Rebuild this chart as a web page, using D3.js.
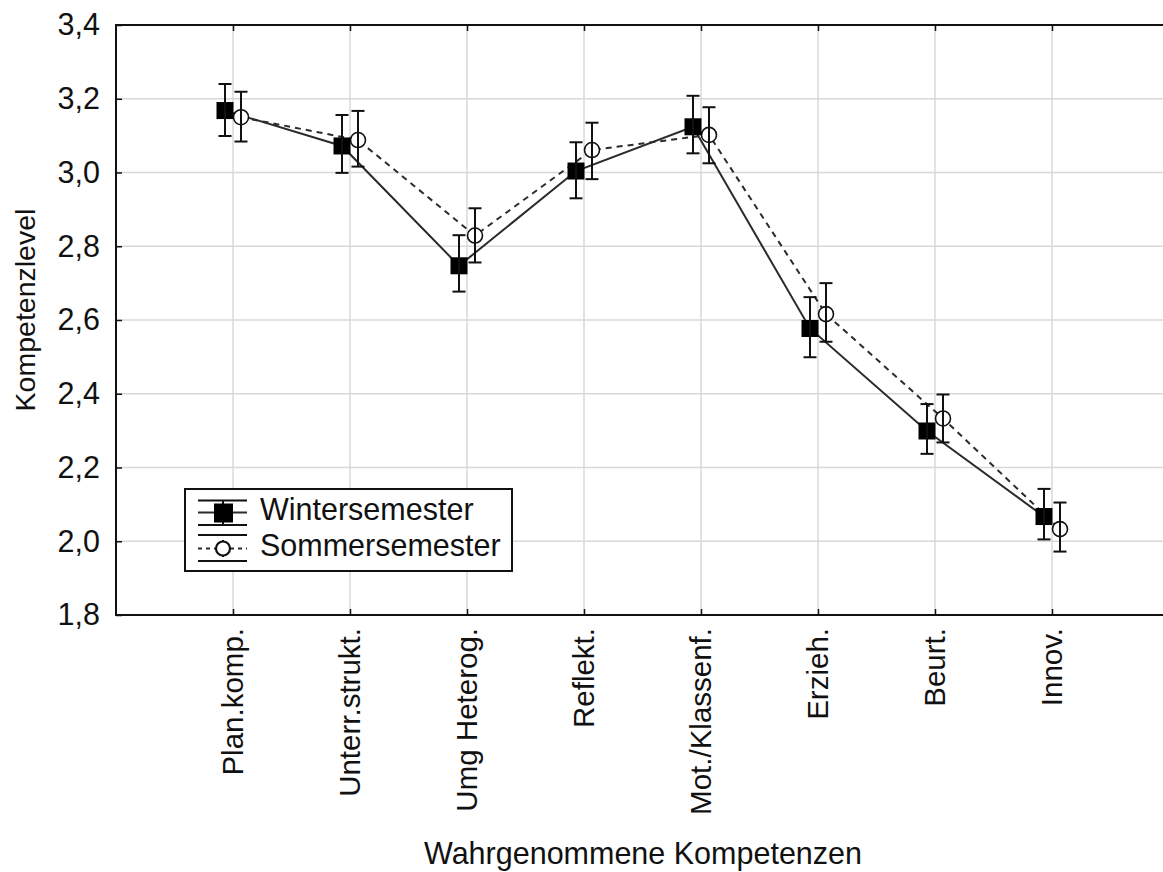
<!DOCTYPE html>
<html>
<head>
<meta charset="utf-8">
<script src="https://cdn.jsdelivr.net/npm/d3@7/dist/d3.min.js"></script>
<style>
  html, body { margin: 0; padding: 0; background: #fff; }
  svg text { font-family: "Liberation Sans", Arial, sans-serif; fill: #111; }
</style>
</head>
<body>
<svg id="chart" width="1163" height="872"></svg>
<script>
// Competence categories (x axis)
const categories = ["Plan.komp.", "Unterr.strukt.", "Umg Heterog.", "Reflekt.",
                    "Mot./Klassenf.", "Erzieh.", "Beurt.", "Innov."];

// Wintersemester: means and confidence limits
const winterMean = [3.168, 3.072, 2.747, 3.004, 3.124, 2.577, 2.299, 2.067];
const winterLow  = [3.099, 2.999, 2.677, 2.930, 3.052, 2.499, 2.237, 2.005];
const winterHigh = [3.240, 3.156, 2.830, 3.082, 3.208, 2.662, 2.372, 2.142];

// Sommersemester: means and confidence limits
const summerMean = [3.150, 3.088, 2.829, 3.061, 3.102, 2.616, 2.333, 2.033];
const summerLow  = [3.084, 3.016, 2.756, 2.982, 3.025, 2.541, 2.268, 1.972];
const summerHigh = [3.219, 3.167, 2.903, 3.135, 3.177, 2.700, 2.398, 2.105];

// Y axis ticks
const yTicks = [1.8, 2.0, 2.2, 2.4, 2.6, 2.8, 3.0, 3.2, 3.4];

const seriesNames = ["Wintersemester", "Sommersemester"];

const svg = d3.select("#chart");
const plotLeft = 116, plotRight = 1169, plotTop = 25, plotBottom = 615;

const x = d3.scaleLinear().domain([0, categories.length + 1]).range([plotLeft, plotRight]);
const y = d3.scaleLinear().domain([1.8, 3.4]).range([plotBottom, plotTop]);

const deLocale = d3.formatLocale({ decimal: ",", thousands: ".", grouping: [3], currency: ["", " €"] });
const fmt = deLocale.format(".1f");

const FONT_H = 30.5;   // horizontal text
const FONT_V = 29.5;   // rotated text
const LINE = "#2b2b2b";

// Grid
const grid = svg.append("g");
grid.selectAll("line.h").data(yTicks.slice(1, -1)).join("line")
  .attr("x1", plotLeft).attr("x2", plotRight)
  .attr("y1", d => y(d)).attr("y2", d => y(d))
  .attr("stroke", "#d8d8d8").attr("stroke-width", 1.5);
grid.selectAll("line.v").data(categories).join("line")
  .attr("x1", (d, i) => x(i + 1)).attr("x2", (d, i) => x(i + 1))
  .attr("y1", plotTop).attr("y2", plotBottom)
  .attr("stroke", "#d8d8d8").attr("stroke-width", 1.5);

// Axes (ticks point into the plot)
const yAxisL = d3.axisLeft(y).tickValues(yTicks).tickSize(-6).tickPadding(16).tickFormat(fmt);
const gy = svg.append("g").attr("transform", `translate(${plotLeft},0)`).call(yAxisL);
gy.select(".domain").remove();
gy.selectAll(".tick line").attr("stroke", "#111").attr("stroke-width", 1.5);
gy.selectAll(".tick text").attr("font-size", FONT_H).attr("font-family", "Liberation Sans, Arial, sans-serif").attr("fill", "#111");

const yAxisR = d3.axisRight(y).tickValues(yTicks).tickSize(-6).tickFormat("");
const gyr = svg.append("g").attr("transform", `translate(${plotRight},0)`).call(yAxisR);
gyr.select(".domain").remove();
gyr.selectAll(".tick line").attr("stroke", "#111").attr("stroke-width", 1.5);

const xAxis = d3.axisBottom(x).tickValues(d3.range(1, categories.length + 1)).tickSize(-6).tickFormat("");
const gx = svg.append("g").attr("transform", `translate(0,${plotBottom})`).call(xAxis);
gx.select(".domain").remove();
gx.selectAll(".tick line").attr("stroke", "#111").attr("stroke-width", 1.5);

const xAxisTop = d3.axisTop(x).tickValues(d3.range(1, categories.length + 1)).tickSize(-6).tickFormat("");
const gxt = svg.append("g").attr("transform", `translate(0,${plotTop})`).call(xAxisTop);
gxt.select(".domain").remove();
gxt.selectAll(".tick line").attr("stroke", "#111").attr("stroke-width", 1.5);

// Category labels, rotated
svg.append("g").selectAll("text").data(categories).join("text")
  .attr("transform", (d, i) => `translate(${x(i + 1)},${plotBottom + 13}) rotate(-90)`)
  .attr("text-anchor", "end").attr("dy", "0.35em")
  .attr("font-size", FONT_V).text(d => d);

// Frame
svg.append("rect").attr("x", plotLeft).attr("y", plotTop)
  .attr("width", plotRight - plotLeft).attr("height", plotBottom - plotTop)
  .attr("fill", "none").attr("stroke", "#111").attr("stroke-width", 2);

// Axis titles
svg.append("text").attr("x", 643).attr("y", 864).attr("text-anchor", "middle")
  .attr("font-size", FONT_H).text("Wahrgenommene Kompetenzen");
svg.append("text").attr("transform", "translate(35,310) rotate(-90)")
  .attr("text-anchor", "middle").attr("font-size", FONT_V - 1).text("Kompetenzlevel");

// Series drawing
const shiftW = -8, shiftS = 8, cap = 6.5;
const idx = d3.range(categories.length);

const lineW = d3.line().x(i => x(i + 1) + shiftW).y(i => y(winterMean[i]));
const lineS = d3.line().x(i => x(i + 1) + shiftS).y(i => y(summerMean[i]));

svg.append("path").attr("d", lineS(idx)).attr("fill", "none")
  .attr("stroke", LINE).attr("stroke-width", 2).attr("stroke-dasharray", "6,5");
svg.append("path").attr("d", lineW(idx)).attr("fill", "none")
  .attr("stroke", LINE).attr("stroke-width", 2);

function errorBars(g, cx, lo, hi) {
  g.selectAll("line.stem").data(idx).join("line").attr("class", "stem")
    .attr("x1", cx).attr("x2", cx)
    .attr("y1", i => y(lo[i])).attr("y2", i => y(hi[i]));
  g.selectAll("line.capT").data(idx).join("line").attr("class", "capT")
    .attr("x1", i => cx(i) - cap).attr("x2", i => cx(i) + cap)
    .attr("y1", i => y(hi[i])).attr("y2", i => y(hi[i]));
  g.selectAll("line.capB").data(idx).join("line").attr("class", "capB")
    .attr("x1", i => cx(i) - cap).attr("x2", i => cx(i) + cap)
    .attr("y1", i => y(lo[i])).attr("y2", i => y(lo[i]));
}

// Sommersemester markers
const gS = svg.append("g");
gS.selectAll("circle").data(idx).join("circle")
  .attr("cx", i => x(i + 1) + shiftS).attr("cy", i => y(summerMean[i]))
  .attr("r", 7.5).attr("fill", "#fff").attr("stroke", "#111").attr("stroke-width", 1.6);
const gSe = svg.append("g").attr("stroke", "#111").attr("stroke-width", 2);
errorBars(gSe, i => x(i + 1) + shiftS, summerLow, summerHigh);

// Wintersemester markers
const gW = svg.append("g");
const gWe = svg.append("g").attr("stroke", "#111").attr("stroke-width", 2);
errorBars(gWe, i => x(i + 1) + shiftW, winterLow, winterHigh);
gW.selectAll("rect").data(idx).join("rect")
  .attr("x", i => x(i + 1) + shiftW - 8.5).attr("y", i => y(winterMean[i]) - 8.5)
  .attr("width", 17).attr("height", 17).attr("fill", "#000");

// Legend
const lg = svg.append("g");
lg.append("rect").attr("x", 185).attr("y", 489).attr("width", 327).attr("height", 82)
  .attr("fill", "#fff").attr("stroke", "#111").attr("stroke-width", 2);
// Winter entry
const s1 = lg.append("g").attr("stroke", "#111").attr("stroke-width", 2);
s1.append("line").attr("x1", 198).attr("x2", 247).attr("y1", 500.5).attr("y2", 500.5);
s1.append("line").attr("x1", 198).attr("x2", 247).attr("y1", 512.5).attr("y2", 512.5).attr("stroke", LINE);
s1.append("line").attr("x1", 198).attr("x2", 247).attr("y1", 525).attr("y2", 525);
s1.append("line").attr("x1", 223).attr("x2", 223).attr("y1", 500.5).attr("y2", 525);
lg.append("rect").attr("x", 214).attr("y", 503.5).attr("width", 19).attr("height", 19).attr("fill", "#000");
lg.append("text").attr("x", 260).attr("y", 520).attr("font-size", FONT_H).text(seriesNames[0]);
// Summer entry
const s2 = lg.append("g").attr("stroke", "#111").attr("stroke-width", 2);
s2.append("line").attr("x1", 198).attr("x2", 247).attr("y1", 535).attr("y2", 535);
s2.append("line").attr("x1", 198).attr("x2", 247).attr("y1", 548.5).attr("y2", 548.5)
  .attr("stroke", LINE).attr("stroke-width", 1.8).attr("stroke-dasharray", "4,4");
s2.append("line").attr("x1", 198).attr("x2", 247).attr("y1", 561).attr("y2", 561);
lg.append("circle").attr("cx", 223).attr("cy", 548.5).attr("r", 7)
  .attr("fill", "#fff").attr("stroke", "#111").attr("stroke-width", 2.2);
s2.append("line").attr("x1", 223).attr("x2", 223).attr("y1", 540).attr("y2", 557);
lg.append("text").attr("x", 260).attr("y", 556).attr("font-size", FONT_H).text(seriesNames[1]);
</script>
</body>
</html>
